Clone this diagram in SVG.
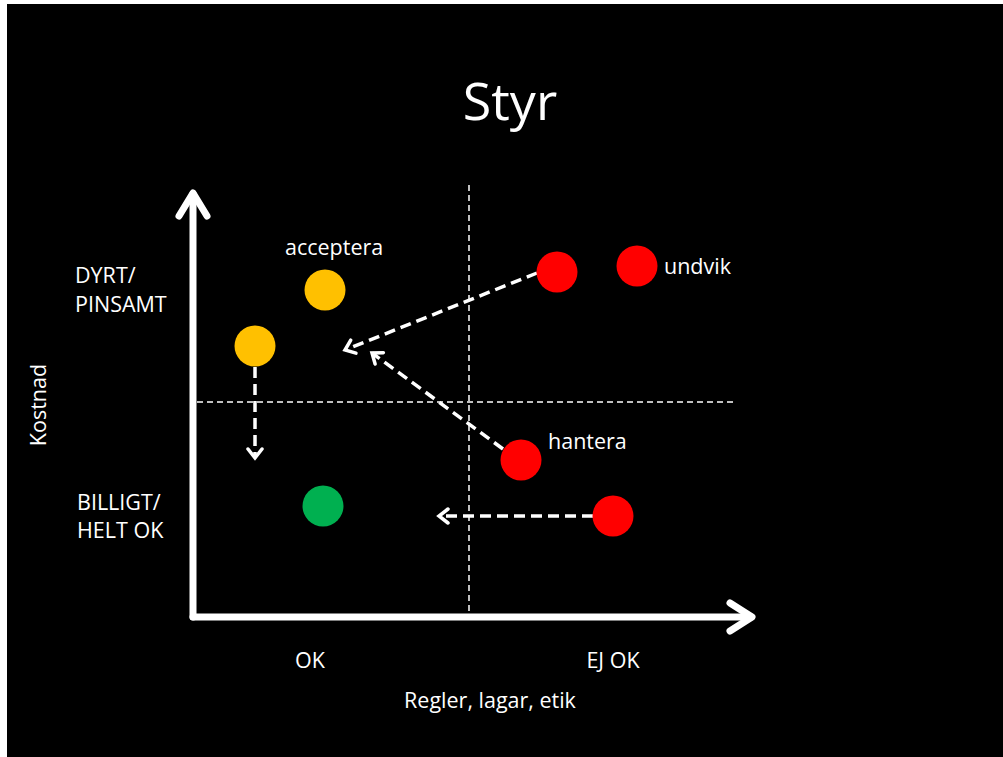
<svg xmlns="http://www.w3.org/2000/svg" width="1003" height="757" viewBox="0 0 1003 757">
<style>
text{font-family:"Open Sans","Liberation Sans",sans-serif;fill:#fff;font-size:21.5px}
.axis{stroke:#fff;stroke-width:7;fill:none;stroke-linecap:round;stroke-linejoin:round}
.grid{stroke:#fff;stroke-width:1.5;stroke-dasharray:6,4;fill:none}
.flow{stroke:#fff;stroke-width:3.5;stroke-dasharray:11,6;fill:none}
.o{fill:#FFC000}.g{fill:#00B050}.r{fill:#FF0000}
</style>
<defs>
<marker id="ah" markerUnits="userSpaceOnUse" markerWidth="20" markerHeight="20" refX="12" refY="9" orient="auto">
<path d="M3,2 L12,9 L3,16" fill="none" stroke="#fff" stroke-width="3.5" stroke-linecap="round" stroke-linejoin="miter"/>
</marker>
</defs>
<rect x="0" y="0" width="1003" height="757" fill="#fff"/>
<rect x="7" y="4" width="996" height="753" fill="#000"/>
<text x="510" y="120" text-anchor="middle" style="font-size:52px">Styr</text>
<g id="grid">
<line class="grid" x1="469" y1="185" x2="469" y2="614"/>
<line class="grid" x1="197" y1="402" x2="735" y2="402"/>
</g>
<g id="axes">
<polyline class="axis" points="193,617 193,194"/>
<polyline class="axis" points="179,216 193,193 207,216"/>
<polyline class="axis" points="193,617 751,617"/>
<polyline class="axis" points="730,603 752,617 730,631"/>
</g>
<g id="connectors">
<line class="flow" x1="537" y1="273" x2="345" y2="350" marker-end="url(#ah)"/>
<line class="flow" x1="503" y1="449" x2="372" y2="353" marker-end="url(#ah)"/>
<line class="flow" x1="255" y1="367" x2="255" y2="458" marker-end="url(#ah)"/>
<line class="flow" x1="593" y1="516" x2="439" y2="516" marker-end="url(#ah)"/>
</g>
<g id="n-acceptera1"><circle class="o" cx="325" cy="290" r="20.5"/></g>
<g id="n-acceptera2"><circle class="o" cx="255" cy="346" r="20.5"/></g>
<g id="n-ok"><circle class="g" cx="323" cy="506" r="20.5"/></g>
<g id="n-undvik1"><circle class="r" cx="557" cy="272" r="20.5"/></g>
<g id="n-undvik2"><circle class="r" cx="637" cy="266" r="20.5"/></g>
<g id="n-hantera"><circle class="r" cx="521" cy="460" r="20.5"/></g>
<g id="n-hantera2"><circle class="r" cx="613" cy="516" r="20.5"/></g>
<g id="labels">
<text x="285" y="255">acceptera</text>
<text x="664" y="274">undvik</text>
<text x="548" y="449">hantera</text>
<text x="75" y="283">DYRT/</text>
<text x="75" y="312">PINSAMT</text>
<text x="77" y="510">BILLIGT/</text>
<text x="77" y="538">HELT OK</text>
<text x="310" y="668" text-anchor="middle">OK</text>
<text x="613" y="668" text-anchor="middle">EJ OK</text>
<text x="490" y="708" text-anchor="middle">Regler, lagar, etik</text>
<text transform="translate(46,405) rotate(-90)" text-anchor="middle">Kostnad</text>
</g>
</svg>
